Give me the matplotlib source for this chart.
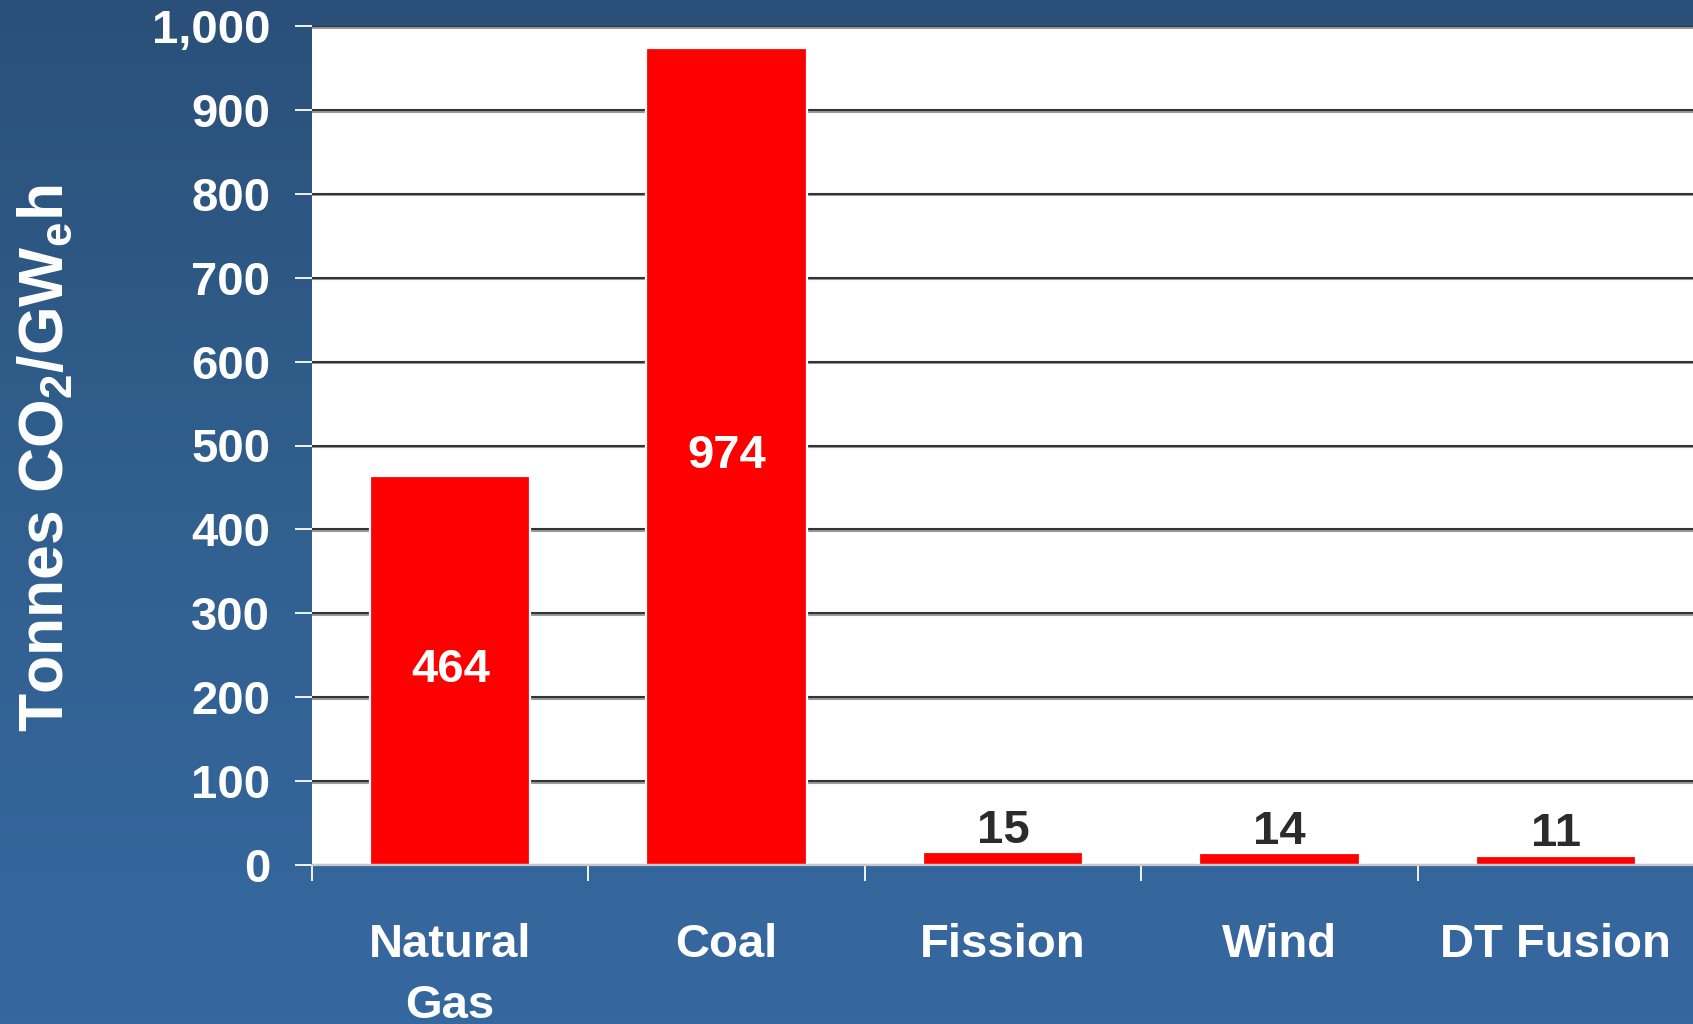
import numpy as np
import matplotlib
matplotlib.use("Agg")
import matplotlib.pyplot as plt
import matplotlib.patheffects as pe
from matplotlib.colors import LinearSegmentedColormap

# Lifecycle CO2 emissions per unit of electricity generated
categories = ["Natural\nGas", "Coal", "Fission", "Wind", "DT Fusion"]
emissions = [464, 974, 15, 14, 11]
y_ticks = [0, 100, 200, 300, 400, 500, 600, 700, 800, 900, 1000]
y_tick_labels = ["0", "100", "200", "300", "400", "500", "600", "700", "800", "900", "1,000"]

plt.rcParams["font.family"] = ["Liberation Sans", "DejaVu Sans"]
plt.rcParams["font.weight"] = "bold"
plt.rcParams["mathtext.fontset"] = "custom"
plt.rcParams["mathtext.rm"] = "Liberation Sans:bold"
plt.rcParams["mathtext.it"] = "Liberation Sans:bold"
plt.rcParams["mathtext.bf"] = "Liberation Sans:bold"
plt.rcParams["mathtext.default"] = "rm"

W, H, DPI = 1693, 1024, 100
fig = plt.figure(figsize=(W / DPI, H / DPI), dpi=DPI)

# Blue vertical gradient backdrop
bg = fig.add_axes([0, 0, 1, 1], zorder=-10)
grad = np.linspace(0, 1, 256).reshape(-1, 1)
cmap = LinearSegmentedColormap.from_list("bg", ["#2a5079", "#31608f", "#3668a0"])
bg.imshow(grad, aspect="auto", cmap=cmap, extent=[0, 1, 0, 1], origin="upper")
bg.set_axis_off()

ax = fig.add_axes([312 / W, 1 - 865 / H, 1382 / W, (865 - 26) / H])
ax.set_facecolor("white")

x = np.arange(len(categories))
bars = ax.bar(x, emissions, width=0.58, color="#ff0000", edgecolor="white",
              linewidth=1.6, zorder=3)

ax.set_xlim(-0.5, len(categories) - 0.5)
ax.set_ylim(0, 1000)

# Horizontal grid lines with a faint shadow underneath
ax.set_axisbelow(True)
ax.yaxis.grid(True, color="#333333", linewidth=1.5, zorder=1,
              path_effects=[pe.SimpleLineShadow(offset=(0, -1.2), shadow_color="#9a9a9a",
                                                alpha=1.0),
                            pe.Normal()])
ax.xaxis.grid(False)

ax.set_yticks(y_ticks)
ax.set_yticklabels(y_tick_labels)
ax.tick_params(axis="y", direction="out", length=12, width=1.3, color="white",
               labelcolor="white", labelsize=34, pad=18)

# Category labels centred under bars; separator ticks between categories
ax.set_xticks(x)
ax.set_xticklabels(categories, linespacing=1.5)
ax.tick_params(axis="x", which="major", length=0, labelcolor="white",
               labelsize=34, pad=42)
ax.set_xticks(np.arange(-0.5, len(categories) - 0.4, 1.0), minor=True)
ax.tick_params(axis="x", which="minor", direction="out", length=11.5, width=1.3,
               color="white")

for side in ["left", "right", "top"]:
    ax.spines[side].set_visible(False)
ax.spines["bottom"].set_color("#c8c8c8")
ax.spines["bottom"].set_linewidth(1.6)
ax.spines["bottom"].set_zorder(4)

# Value labels: inside tall bars, above short ones
for xi, v in zip(x, emissions):
    if v > 100:
        ax.text(xi, v / 2, str(v), ha="center", va="center", color="white",
                fontsize=34, fontweight="bold", zorder=5)
    else:
        ax.annotate(str(v), xy=(xi, v), xytext=(0, 7), textcoords="offset points",
                    ha="center", va="baseline", color="#2b2b2b", fontsize=34,
                    fontweight="bold", zorder=5)

fig.text(47 / W, 1 - 458 / H, r"Tonnes CO$_{2}$/GW$_{e}$h", rotation=90,
         ha="center", va="center", color="white", fontsize=45, fontweight="bold")

fig.savefig("out.png", dpi=DPI)
